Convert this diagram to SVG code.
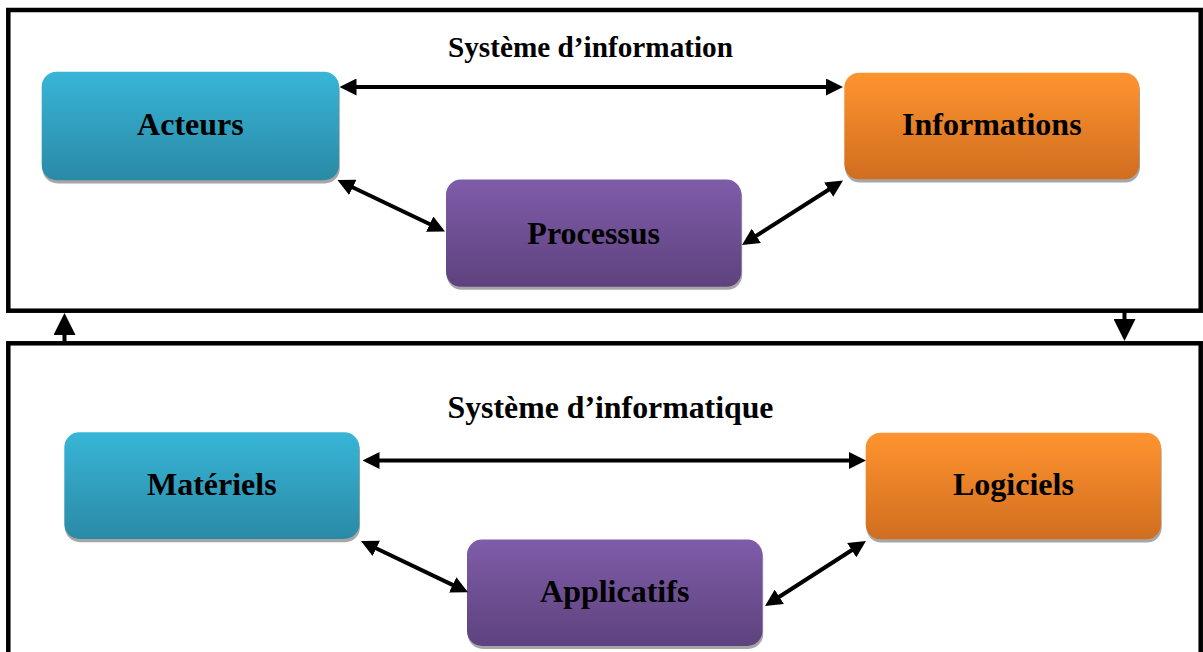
<svg xmlns="http://www.w3.org/2000/svg" width="1203" height="652" viewBox="0 0 1203 652">
<style>
.frame{fill:none;stroke:#000;stroke-width:4.5}
.shadow{fill:#a6a6a6}
.lbl{font-family:"Liberation Serif","Times New Roman",serif;font-weight:bold;font-size:32px;fill:#000;text-anchor:middle}
.title{font-family:"Liberation Serif","Times New Roman",serif;font-weight:bold;fill:#000}
.conn{fill:none;stroke:#000;stroke-width:4}
</style>
<defs>
<linearGradient id="gBlue" x1="0" y1="0" x2="0" y2="1">
<stop offset="0" stop-color="#38b5d7"/><stop offset="1" stop-color="#2a8aa6"/>
</linearGradient>
<linearGradient id="gOrange" x1="0" y1="0" x2="0" y2="1">
<stop offset="0" stop-color="#ff942f"/><stop offset="1" stop-color="#d06d1f"/>
</linearGradient>
<linearGradient id="gPurple" x1="0" y1="0" x2="0" y2="1">
<stop offset="0" stop-color="#7f5ca9"/><stop offset="1" stop-color="#5e427e"/>
</linearGradient>
<marker id="ah" markerUnits="userSpaceOnUse" markerWidth="17" markerHeight="17" refX="5" refY="8.5" orient="auto-start-reverse">
<path d="M0,0 L17,8.5 L0,17 z" fill="#000"/>
</marker>
<marker id="ahBig" markerUnits="userSpaceOnUse" markerWidth="22" markerHeight="22" refX="9" refY="11" orient="auto">
<path d="M0,0 L22,11 L0,22 z" fill="#000"/>
</marker>
</defs>
<rect width="1203" height="652" fill="#fff"/>

<g id="frame-information">
<rect class="frame" x="8.3" y="10" width="1192.4" height="300.7"/>
<text class="title" x="448" y="57" font-size="29" textLength="285" lengthAdjust="spacingAndGlyphs">Système d’information</text>
</g>
<g id="frame-informatique">
<rect class="frame" x="8.3" y="343.3" width="1192.4" height="330"/>
<text class="title" x="447.5" y="418" font-size="30.5" textLength="326" lengthAdjust="spacingAndGlyphs">Système d’informatique</text>
</g>

<g id="node-acteurs">
<rect class="shadow" x="42.5" y="75" width="297.3" height="108.5" rx="15"/>
<rect x="41.7" y="71.7" width="297.3" height="108.5" rx="15" fill="url(#gBlue)"/>
<text class="lbl" x="190.4" y="135">Acteurs</text>
</g>
<g id="node-informations">
<rect class="shadow" x="845" y="76" width="295" height="106.6" rx="15"/>
<rect x="844.3" y="72.7" width="295" height="106.6" rx="15" fill="url(#gOrange)"/>
<text class="lbl" x="991.8" y="135">Informations</text>
</g>
<g id="node-processus">
<rect class="shadow" x="446.8" y="182.5" width="295.4" height="107.3" rx="15"/>
<rect x="446" y="179.5" width="295.4" height="107.3" rx="15" fill="url(#gPurple)"/>
<text class="lbl" x="593.7" y="243.5">Processus</text>
</g>
<g id="node-materiels">
<rect class="shadow" x="65" y="435.5" width="295" height="106.7" rx="15"/>
<rect x="64.3" y="432.3" width="295" height="106.7" rx="15" fill="url(#gBlue)"/>
<text class="lbl" x="211.8" y="495">Matériels</text>
</g>
<g id="node-logiciels">
<rect class="shadow" x="866.4" y="436" width="295.3" height="106.6" rx="15"/>
<rect x="865.7" y="432.7" width="295.3" height="106.6" rx="15" fill="url(#gOrange)"/>
<text class="lbl" x="1013.4" y="495">Logiciels</text>
</g>
<g id="node-applicatifs">
<rect class="shadow" x="467.8" y="542.5" width="295.4" height="106.5" rx="15"/>
<rect x="467" y="539.5" width="295.4" height="106.5" rx="15" fill="url(#gPurple)"/>
<text class="lbl" x="614.7" y="601.5">Applicatifs</text>
</g>

<g id="connectors">
<line class="conn" x1="351.5" y1="87" x2="831" y2="87" marker-start="url(#ah)" marker-end="url(#ah)"/>
<line class="conn" x1="348.3" y1="185.2" x2="434.2" y2="226.3" marker-start="url(#ah)" marker-end="url(#ah)"/>
<line class="conn" x1="752.1" y1="238.5" x2="832.9" y2="187" marker-start="url(#ah)" marker-end="url(#ah)"/>
<line class="conn" x1="374.5" y1="460.5" x2="854" y2="460.5" marker-start="url(#ah)" marker-end="url(#ah)"/>
<line class="conn" x1="371.8" y1="546.2" x2="457.2" y2="587.1" marker-start="url(#ah)" marker-end="url(#ah)"/>
<line class="conn" x1="775.1" y1="599.5" x2="855.9" y2="547.5" marker-start="url(#ah)" marker-end="url(#ah)"/>
<line class="conn" x1="64.5" y1="341" x2="64.5" y2="326" marker-end="url(#ahBig)"/>
<line class="conn" x1="1124.5" y1="312" x2="1124.5" y2="328" marker-end="url(#ahBig)"/>
</g>
</svg>
